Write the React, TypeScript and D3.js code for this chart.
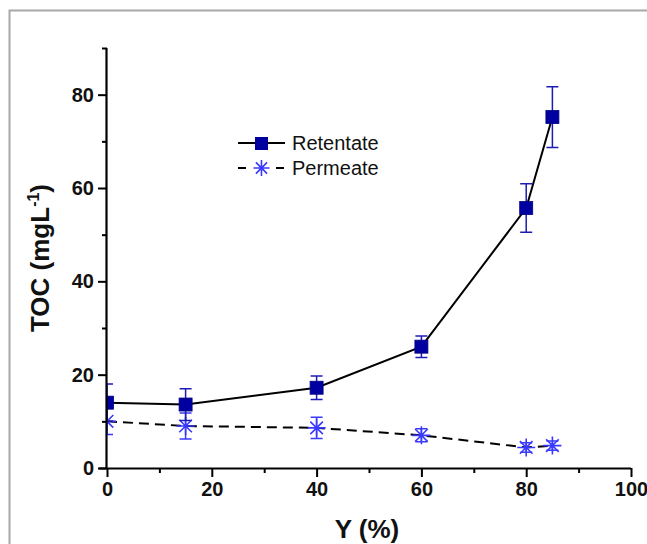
import { useEffect, useRef } from 'react';
import * as d3 from 'd3';

const yRecovery = [0, 15, 40, 60, 80, 85];
const retentate = [14.0, 13.6, 17.2, 26.0, 55.7, 75.2];
const retentateErr = [4.0, 3.4, 2.5, 2.3, 5.2, 6.5];
const permeate = [10.0, 9.0, 8.6, 7.0, 4.4, 4.8];
const permeateErr = [2.8, 2.8, 2.3, 1.4, 1.0, 1.0];
const xTicks = [0, 20, 40, 60, 80, 100];
const yTicks = [0, 20, 40, 60, 80];

const W = 647;
const H = 544;
const margin = { left: 107, right: 16, top: 48, bottom: 76 };

export default function App() {
  const svgRef = useRef<SVGSVGElement>(null);

  useEffect(() => {
    if (!svgRef.current) return;
    const svg = d3.select(svgRef.current);
    svg.selectAll('*').remove();

    const x = d3.scaleLinear().domain([0, 100]).range([margin.left, W - margin.right]);
    const y = d3.scaleLinear().domain([0, 90]).range([H - margin.bottom, margin.top]);
    const font = 'Arial, "Liberation Sans", sans-serif';

    // frame
    svg.append('path')
      .attr('d', `M9.5,${H + 5} V10.5 H${W + 5}`)
      .attr('fill', 'none')
      .attr('stroke', '#a8a8a8')
      .attr('stroke-width', 2);

    svg.append('clipPath').attr('id', 'plot-clip')
      .append('rect')
      .attr('x', margin.left)
      .attr('y', margin.top - 20)
      .attr('width', W - margin.right - margin.left + 20)
      .attr('height', H - margin.bottom - margin.top + 20);

    const plot = svg.append('g').attr('clip-path', 'url(#plot-clip)');

    const line = d3.line<number>()
      .x((_, i) => x(yRecovery[i]))
      .y(d => y(d));

    plot.append('path')
      .attr('d', line(permeate))
      .attr('fill', 'none')
      .attr('stroke', '#000')
      .attr('stroke-width', 2)
      .attr('stroke-dasharray', '10,6');

    plot.append('path')
      .attr('d', line(retentate))
      .attr('fill', 'none')
      .attr('stroke', '#000')
      .attr('stroke-width', 2);

    const errorBars = (vals: number[], errs: number[], color: string) => {
      const g = plot.append('g').attr('stroke', color).attr('stroke-width', 1.5).attr('fill', 'none');
      vals.forEach((v, i) => {
        const cx = x(yRecovery[i]);
        const t = y(v + errs[i]);
        const b = y(v - errs[i]);
        g.append('path').attr('d', `M${cx},${t} V${b} M${cx - 6},${t} H${cx + 6} M${cx - 6},${b} H${cx + 6}`);
      });
    };

    const starPath = (cx: number, cy: number, r: number) => {
      const a = r * 0.7;
      return `M${cx - r},${cy} H${cx + r} M${cx},${cy - r} V${cy + r}` +
        ` M${cx - a},${cy - a} L${cx + a},${cy + a} M${cx - a},${cy + a} L${cx + a},${cy - a}`;
    };

    errorBars(permeate, permeateErr, '#3a3aff');
    plot.append('g')
      .selectAll('path')
      .data(permeate)
      .join('path')
      .attr('d', (d, i) => starPath(x(yRecovery[i]), y(d), 9))
      .attr('stroke', '#3a3aff')
      .attr('stroke-width', 1.6)
      .attr('fill', 'none');

    errorBars(retentate, retentateErr, '#1c1cb4');
    plot.append('g')
      .selectAll('rect')
      .data(retentate)
      .join('rect')
      .attr('x', (d, i) => x(yRecovery[i]) - 6.5)
      .attr('y', d => y(d) - 6.5)
      .attr('width', 13)
      .attr('height', 13)
      .attr('fill', '#0000a0')
      .attr('stroke', '#000080')
      .attr('stroke-width', 0.8);

    // axes
    const xAxis = d3.axisBottom(x)
      .tickValues(d3.range(0, 101, 10))
      .tickSize(6)
      .tickFormat(d => (xTicks.includes(+d) ? String(d) : ''));
    const gx = svg.append('g')
      .attr('transform', `translate(0,${y(0)})`)
      .call(xAxis);
    gx.select('.domain').attr('stroke-width', 2.2).attr('d', `M${x(0) - 8},0.5 H${x(100)}`);
    gx.selectAll('.tick line')
      .attr('stroke-width', 2)
      .attr('y2', d => (xTicks.includes(d as number) ? 9 : 5));
    gx.selectAll('.tick text')
      .attr('y', 14)
      .attr('font-family', font)
      .attr('font-weight', 'bold')
      .attr('font-size', 20)
      .attr('fill', '#111');

    const yAxis = d3.axisLeft(y)
      .tickValues(d3.range(0, 91, 10))
      .tickSize(6)
      .tickFormat(d => (yTicks.includes(+d) ? String(d) : ''));
    const gy = svg.append('g')
      .attr('transform', `translate(${x(0)},0)`)
      .call(yAxis);
    gy.select('.domain').attr('stroke-width', 2.2).attr('d', `M-0.5,${y(90)} V${y(0)}`);
    gy.selectAll('.tick line')
      .attr('stroke-width', 2)
      .attr('x2', d => (yTicks.includes(d as number) ? -9 : -5));
    gy.selectAll('.tick text')
      .attr('x', -13)
      .attr('font-family', font)
      .attr('font-weight', 'bold')
      .attr('font-size', 20)
      .attr('fill', '#111');

    // titles
    svg.append('text')
      .attr('x', (x(0) + x(100)) / 2 - 2)
      .attr('y', 538)
      .attr('text-anchor', 'middle')
      .attr('font-family', font)
      .attr('font-weight', 'bold')
      .attr('font-size', 26)
      .attr('fill', '#111')
      .text('Y (%)');

    const yt = svg.append('text')
      .attr('transform', `translate(49,258) rotate(-90)`)
      .attr('text-anchor', 'middle')
      .attr('font-family', font)
      .attr('font-weight', 'bold')
      .attr('font-size', 26)
      .attr('fill', '#111');
    yt.append('tspan').text('TOC (mgL');
    yt.append('tspan').attr('font-size', 16).attr('dy', -10).text('-1');
    yt.append('tspan').attr('dy', 10).text(')');

    // legend
    const lg = svg.append('g').attr('font-family', font).attr('font-size', 20).attr('fill', '#111');
    lg.append('line').attr('x1', 238).attr('x2', 285).attr('y1', 143).attr('y2', 143)
      .attr('stroke', '#000').attr('stroke-width', 2);
    lg.append('rect').attr('x', 255).attr('y', 137).attr('width', 13).attr('height', 13)
      .attr('fill', '#0000a0');
    lg.append('text').attr('x', 292).attr('y', 150).text('Retentate');
    lg.append('path').attr('d', 'M238,168 H246 M276,168 H284')
      .attr('stroke', '#000').attr('stroke-width', 2);
    lg.append('path').attr('d', starPath(261.5, 168, 8))
      .attr('stroke', '#3a3aff').attr('stroke-width', 1.6).attr('fill', 'none');
    lg.append('text').attr('x', 292).attr('y', 175).text('Permeate');
  }, []);

  return (
    <svg
      ref={svgRef}
      width={W}
      height={H}
      style={{ position: 'absolute', left: 0, top: 0, background: '#fff' }}
    />
  );
}
